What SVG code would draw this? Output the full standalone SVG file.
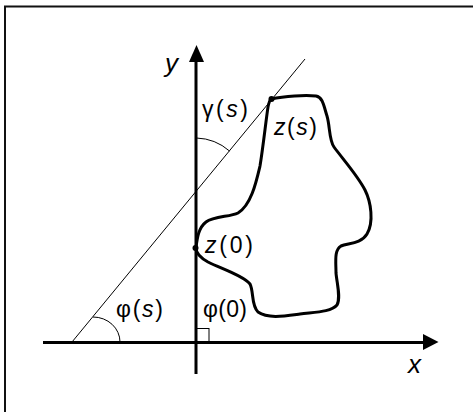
<svg xmlns="http://www.w3.org/2000/svg" width="473" height="412" viewBox="0 0 473 412">
<defs>
<style>
.frame{fill:none;stroke:#111;stroke-width:2}
.axis{fill:none;stroke:#000;stroke-width:3}
.thin{fill:none;stroke:#000;stroke-width:1}
.curve{fill:none;stroke:#000;stroke-width:3;stroke-linejoin:round}
.lbl{font-family:"Liberation Sans",Arial,sans-serif;font-size:23px;fill:#000}
.ax{font-family:"Liberation Sans",Arial,sans-serif;font-size:26px;font-style:italic;fill:#000}
.it{font-style:italic}
</style>
</defs>
<path class="frame" d="M5,420 V6.5 H480"/>
<g id="connectors">
<line class="axis" x1="43" y1="342.5" x2="425" y2="342.5"/>
<polygon points="438.5,342 423,334 423,350" fill="#000"/>
<line class="axis" x1="196" y1="374" x2="196" y2="60"/>
<polygon points="196.5,45 189,62 204,62" fill="#000"/>
<line class="thin" x1="72" y1="342" x2="305" y2="59"/>
<path class="thin" d="M196.5,138 A53,53 0 0 1 229.5,151"/>
<path class="thin" d="M93,317 A27,25 0 0 1 120,342"/>
<rect class="thin" x="196.5" y="328.5" width="12.5" height="13.5"/>
</g>
<g id="contour">
<path class="curve" d="M271,99 C285,96 305,95 316,96 C323,97 324,107 327,116 C330,126 329,140 334,147 C342,158 358,176 365,190 C371,202 374,222 367,234 C361,244 348,243 341,246 C334,250 336,262 336,273 C337,284 341,298 337,305 C331,312 316,312 300,314 C285,316 268,319 258,312 C251,305 254,292 250,284 C244,276 222,269 208,262 C199,257 196,253 196,248 C197,240 198,228 206,222 C214,216 230,217 238,213 C251,205 256,183 260,166 C263,148 266,120 268,107 C269,102 270,100 271,99 Z"/>
<circle cx="271.5" cy="99" r="3"/>
<circle cx="195.5" cy="248" r="3"/>
</g>
<g id="labels">
<text class="ax" x="165" y="72">y</text>
<text class="ax" x="408" y="372.5">x</text>
<text class="lbl" x="202" y="117" textLength="46">γ(<tspan class="it">s</tspan>)</text>
<text class="lbl" x="274" y="134.5" textLength="43"><tspan class="it">z</tspan>(<tspan class="it">s</tspan>)</text>
<text class="lbl" x="205" y="252.5" textLength="48"><tspan class="it">z</tspan>(0)</text>
<text class="lbl" x="116" y="317" textLength="47">φ(<tspan class="it">s</tspan>)</text>
<text class="lbl" x="203" y="317" textLength="44">φ(0)</text>
</g>
</svg>
